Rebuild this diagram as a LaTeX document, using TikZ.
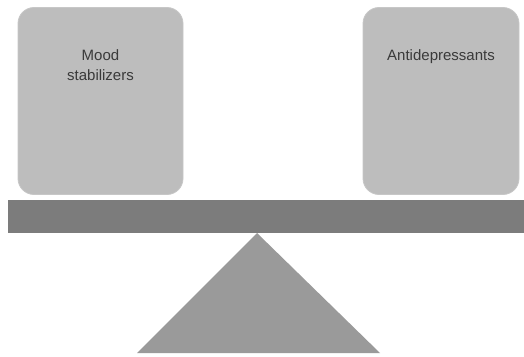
\documentclass[tikz,border=0pt]{standalone}
\usepackage{fontspec}
\setmainfont{Liberation Sans}
\usetikzlibrary{positioning}

\definecolor{panfill}{HTML}{BDBDBD}
\definecolor{beamfill}{HTML}{7C7C7C}
\definecolor{pivotfill}{HTML}{9A9A9A}
\definecolor{labeltext}{HTML}{3A3A3A}

\tikzset{
  weightbox/.style={fill=panfill, draw=panfill!85!white, line width=0.8pt,
    rounded corners=16pt, minimum width=165pt, minimum height=187pt,
    inner sep=0pt},
  weightlabel/.style={text=labeltext, align=center, inner sep=0pt,
    font=\fontsize{15}{20}\selectfont}
}

\begin{document}
\begin{tikzpicture}[x=1pt, y=-1pt]
  \useasboundingbox (0,0) rectangle (524,356);

  % --- piatto sinistro ---
  \node[weightbox] (mood) at (100.5,101) {};
  \node[weightlabel, below=42pt of mood.north] (moodtxt) {Mood\\stabilizers};

  % --- piatto destro ---
  \node[weightbox, minimum width=156pt] (anti) at (441,101) {};
  \node[weightlabel, below=42pt of anti.north] (antitxt) {Antidepressants};

  % --- asta ---
  \fill[beamfill] (8,200) rectangle (524,233);

  % --- fulcro ---
  \fill[pivotfill] (257,233) -- (380,353) -- (137,353) -- cycle;

\end{tikzpicture}
\end{document}
